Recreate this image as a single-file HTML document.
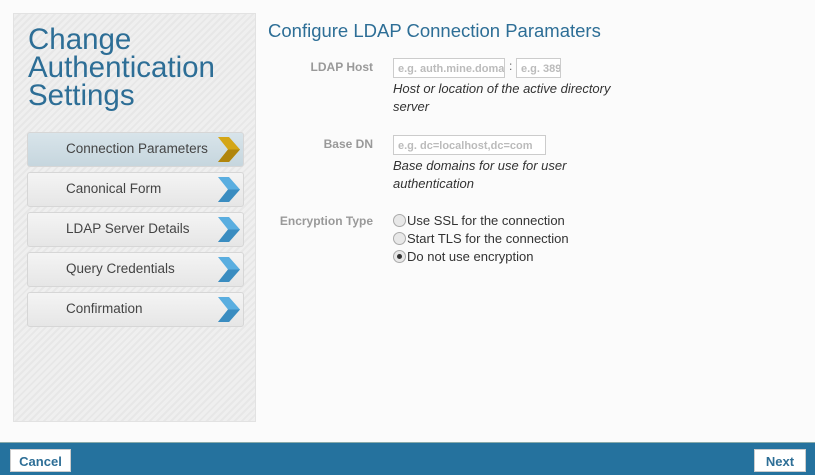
<!DOCTYPE html>
<html><head><style>
body{margin:0;width:815px;height:474px;background:#fbfbfb;font-family:"Liberation Sans",sans-serif;position:relative;overflow:hidden}
.side{position:absolute;left:13px;top:13px;width:241px;height:407px;border:1px solid #e2e2e2;background:repeating-linear-gradient(135deg,#efefef 0 3px,#e7e7e7 3px 5px)}
.title{position:absolute;left:14px;top:12px;font-size:29.5px;line-height:28px;color:#2d6e96}
.item{position:absolute;left:13px;width:215px;height:33px;border:1px solid #d6d6d6;border-radius:3px;background:linear-gradient(#f4f4f4,#e6e6e6);font-size:13.5px;color:#444;line-height:31px;box-sizing:content-box}
.item span{position:absolute;left:38px}
.item svg{position:absolute;right:2px;top:2px}
.act{background:linear-gradient(#d8e4ea,#c6d6de)}
.h{position:absolute;left:268px;top:20px;font-size:18.5px;color:#2d6e96}
.lbl{position:absolute;font-size:12px;font-weight:bold;color:#999;text-align:right;width:110px}
.in{position:absolute;height:20px;border:1px solid #ccc;background:#fff;font-size:11px;font-weight:bold;color:#bbb;line-height:20px;padding-left:4px;box-sizing:border-box;overflow:hidden;white-space:nowrap}
.help{position:absolute;left:393px;font-size:13px;font-style:italic;color:#333;line-height:18px}
.r{position:absolute;left:393px;font-size:13px;color:#333}
.r i{display:inline-block;width:11px;height:11px;border:1px solid #aaa;border-radius:50%;background:#e8e8e8;vertical-align:-2px;margin-right:1px;position:relative}
.foot{position:absolute;left:0;top:442px;width:815px;height:32px;background:#25729e;border-top:1px solid #8aa}
.btn{position:absolute;top:6px;height:23px;background:#fff;border:1px solid #ccc;font-size:13px;font-weight:bold;color:#2d6e96;line-height:23px;text-align:center;box-sizing:border-box}
</style></head><body>
<div class="side">
<div class="title">Change<br>Authentication<br>Settings</div>
<div class="item act" style="top:118px"><span>Connection Parameters</span><svg width="26" height="29"><polygon points="3,2 14,2 25,14.5 14,27 3,27 13,14.5" fill="#d4a617"/><polygon points="14,27 3,27 13,14.5 25,14.5" fill="#b0850c"/></svg></div>
<div class="item" style="top:158px"><span>Canonical Form</span><svg width="26" height="29"><polygon points="3,2 14,2 25,14.5 14,27 3,27 13,14.5" fill="#5aaee0"/><polygon points="14,27 3,27 13,14.5 25,14.5" fill="#3a8cc0"/></svg></div>
<div class="item" style="top:198px"><span>LDAP Server Details</span><svg width="26" height="29"><polygon points="3,2 14,2 25,14.5 14,27 3,27 13,14.5" fill="#5aaee0"/><polygon points="14,27 3,27 13,14.5 25,14.5" fill="#3a8cc0"/></svg></div>
<div class="item" style="top:238px"><span>Query Credentials</span><svg width="26" height="29"><polygon points="3,2 14,2 25,14.5 14,27 3,27 13,14.5" fill="#5aaee0"/><polygon points="14,27 3,27 13,14.5 25,14.5" fill="#3a8cc0"/></svg></div>
<div class="item" style="top:278px"><span>Confirmation</span><svg width="26" height="29"><polygon points="3,2 14,2 25,14.5 14,27 3,27 13,14.5" fill="#5aaee0"/><polygon points="14,27 3,27 13,14.5 25,14.5" fill="#3a8cc0"/></svg></div>
</div>
<div class="h">Configure LDAP Connection Paramaters</div>
<div class="lbl" style="left:263px;top:60px">LDAP Host</div>
<div class="in" style="left:393px;top:58px;width:112px">e.g. auth.mine.domain</div>
<div style="position:absolute;left:509px;top:59px;font-size:12px;color:#666">:</div>
<div class="in" style="left:516px;top:58px;width:45px">e.g. 389</div>
<div class="help" style="top:80px">Host or location of the active directory<br>server</div>
<div class="lbl" style="left:263px;top:137px">Base DN</div>
<div class="in" style="left:393px;top:135px;width:153px">e.g. dc=localhost,dc=com</div>
<div class="help" style="top:157px">Base domains for use for user<br>authentication</div>
<div class="lbl" style="left:263px;top:214px">Encryption Type</div>
<div class="r" style="top:213px"><i></i>Use SSL for the connection</div>
<div class="r" style="top:231px"><i></i>Start TLS for the connection</div>
<div class="r" style="top:249px"><i><b style="position:absolute;left:3px;top:3px;width:5px;height:5px;border-radius:50%;background:#333"></b></i>Do not use encryption</div>
<div class="foot">
<div class="btn" style="left:10px;width:61px">Cancel</div>
<div class="btn" style="left:754px;width:52px">Next</div>
</div>
</body></html>
